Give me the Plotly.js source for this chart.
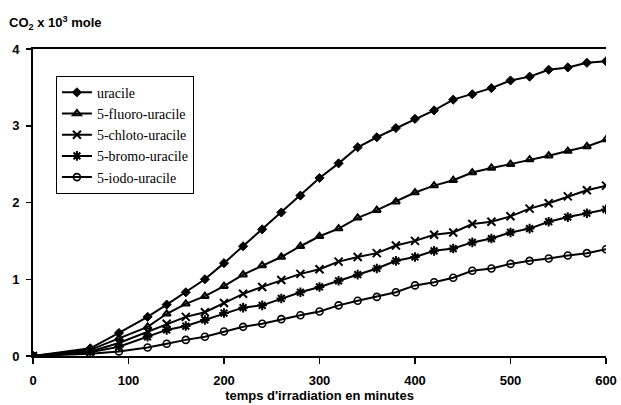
<!DOCTYPE html>
<html>
<head>
<meta charset="utf-8">
<script src="https://cdn.plot.ly/plotly-3.0.1.min.js"></script>
<style>html,body{margin:0;padding:0;background:#fff;}#chart{width:621px;height:405px;}</style>
</head>
<body>
<div id="chart"></div>
<script>
const times = [0,60,90,120,140,160,180,200,220,240,260,280,300,320,340,360,380,400,420,440,460,480,500,520,540,560,580,600];
const uracile = [0,0.10,0.30,0.51,0.67,0.83,1.00,1.21,1.43,1.65,1.87,2.09,2.32,2.51,2.72,2.85,2.97,3.09,3.20,3.34,3.41,3.49,3.59,3.64,3.73,3.76,3.82,3.84];
const fluoro = [0,0.08,0.23,0.38,0.55,0.68,0.78,0.91,1.06,1.18,1.29,1.43,1.56,1.66,1.80,1.90,2.01,2.13,2.22,2.29,2.39,2.45,2.50,2.56,2.61,2.67,2.73,2.82];
const chloro = [0,0.06,0.17,0.32,0.42,0.51,0.57,0.69,0.81,0.90,0.99,1.07,1.13,1.23,1.29,1.34,1.44,1.50,1.58,1.61,1.72,1.75,1.82,1.92,1.99,2.08,2.16,2.22];
const bromo = [0,0.05,0.12,0.25,0.34,0.39,0.47,0.56,0.63,0.66,0.75,0.83,0.90,0.98,1.06,1.14,1.24,1.29,1.37,1.40,1.48,1.53,1.61,1.66,1.75,1.81,1.86,1.91];
const iodo = [0,0.03,0.06,0.11,0.16,0.21,0.25,0.32,0.38,0.42,0.48,0.53,0.58,0.66,0.72,0.77,0.83,0.92,0.96,1.02,1.11,1.14,1.20,1.24,1.27,1.31,1.34,1.39];
const seriesNames = ['uracile','5-fluoro-uracile','5-chloto-uracile','5-bromo-uracile','5-iodo-uracile'];
const xTickVals = [0,100,200,300,400,500,600];
const yTickVals = [0,1,2,3,4];

const markerDefs = [
  {symbol:'diamond', size:7, color:'#000', line:{color:'#000', width:1}},
  {symbol:'triangle-up-open', size:7, color:'#000', line:{color:'#000', width:2}},
  {symbol:'x-thin-open', size:8, color:'#000', line:{color:'#000', width:2}},
  {symbol:'asterisk-open', size:8, color:'#000', line:{color:'#000', width:2}},
  {symbol:'circle-open', size:7, color:'#000', line:{color:'#000', width:1.6}}
];
const allY = [uracile, fluoro, chloro, bromo, iodo];
const traces = allY.map((ys, i) => ({
  x: times, y: ys, name: seriesNames[i], type: 'scatter', mode: 'lines+markers',
  line: {color: '#000', width: 2},
  marker: markerDefs[i]
}));

const layout = {
  width: 621, height: 405,
  margin: {l: 33, r: 15, t: 49, b: 49},
  paper_bgcolor: '#fff', plot_bgcolor: '#fff',
  font: {family: 'Liberation Sans, Arial, sans-serif', color: '#000', size: 13},
  showlegend: true,
  legend: {
    x: 0.04, y: 0.913, xanchor: 'left', yanchor: 'top',
    bgcolor: '#fff', bordercolor: '#000', borderwidth: 1,
    font: {family: 'Liberation Serif, Times New Roman, serif', size: 14, color: '#000'},
    tracegroupgap: 0, itemwidth: 30
  },
  xaxis: {
    range: [0, 600], tickvals: xTickVals, ticktext: xTickVals.map(String),
    showgrid: false, zeroline: false, showline: true, linecolor: '#000', linewidth: 2,
    mirror: true, ticks: 'outside', ticklen: 6, tickwidth: 1.5, tickcolor: '#000',
    ticklabelstandoff: 5,
    tickfont: {family: 'Liberation Sans, Arial, sans-serif', size: 13, color: '#000', weight: 'bold'},
    title: {text: "<b>temps d'irradiation en minutes</b>", standoff: 4,
            font: {family: 'Liberation Sans, Arial, sans-serif', size: 13, color: '#000'}}
  },
  yaxis: {
    range: [0, 4], tickvals: yTickVals, ticktext: yTickVals.map(String),
    showgrid: false, zeroline: false, showline: true, linecolor: '#000', linewidth: 2,
    ticks: 'outside', ticklen: 5, tickwidth: 1.5, tickcolor: '#000',
    ticklabelstandoff: 4,
    tickfont: {family: 'Liberation Sans, Arial, sans-serif', size: 13, color: '#000', weight: 'bold'}
  },
  annotations: [{
    xref: 'paper', yref: 'paper', x: -0.045, y: 1.05, xanchor: 'left', yanchor: 'bottom',
    text: '<b>CO<sub>2</sub> x 10<sup>3</sup> mole</b>', showarrow: false,
    font: {family: 'Liberation Sans, Arial, sans-serif', size: 13, color: '#000'}
  }]
};

Plotly.newPlot('chart', traces, layout, {displayModeBar: false, staticPlot: true});
</script>
</body>
</html>
